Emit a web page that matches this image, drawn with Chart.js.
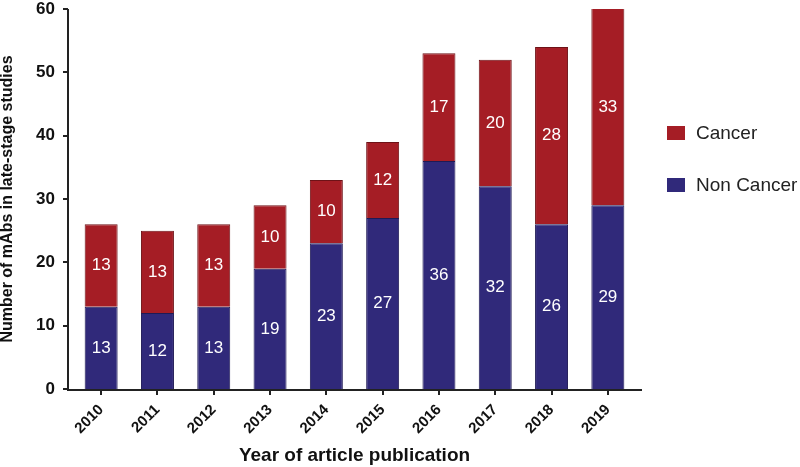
<!DOCTYPE html>
<html>
<head>
<meta charset="utf-8">
<script src="https://cdn.jsdelivr.net/npm/chart.js@4/dist/chart.umd.min.js"></script>
<style>
  body { margin: 0; background: #fff; }
  #wrap { position: relative; width: 800px; height: 467px; }
  .lg { position: absolute; left: 667px; font: 19px "Liberation Sans", Arial, sans-serif; color: #222; white-space: nowrap; }
  .lg span { display: inline-block; width: 18px; height: 14px; margin-right: 11px; vertical-align: -1px; }
</style>
</head>
<body>
<div id="wrap">
  <canvas id="myChart" width="800" height="467"></canvas>
  <div class="lg" style="top:122px"><span style="background:#a51d25"></span>Cancer</div>
  <div class="lg" style="top:174px"><span style="background:#30297a"></span>Non Cancer</div>
</div>
<script>
var years = ["2010", "2011", "2012", "2013", "2014", "2015", "2016", "2017", "2018", "2019"];
var nonCancer = [13, 12, 13, 19, 23, 27, 36, 32, 26, 29];
var cancer = [13, 13, 13, 10, 10, 12, 17, 20, 28, 33];
var yTicks = [0, 10, 20, 30, 40, 50, 60];

var font = "'Liberation Sans', Arial, sans-serif";

// values written inside each bar segment
var valueLabels = {
    id: "valueLabels",
    afterDatasetsDraw: function (chart) {
        var c = chart.ctx;
        var area = chart.chartArea;
        c.save();
        c.fillStyle = "#fff";
        c.font = "17px " + font;
        c.textAlign = "center";
        c.textBaseline = "middle";
        chart.data.datasets.forEach(function (ds, i) {
            chart.getDatasetMeta(i).data.forEach(function (bar, j) {
                var top = Math.max(bar.y, area.top);
                c.fillText(ds.data[j], bar.x, (top + bar.base) / 2);
            });
        });
        c.restore();
    }
};

// axis lines a bit past the plot area, like the original
var axisLines = {
    id: "axisLines",
    afterDraw: function (chart) {
        var c = chart.ctx;
        var a = chart.chartArea;
        var y = chart.scales.y;
        c.save();
        c.strokeStyle = "#222";
        c.lineWidth = 2;
        c.beginPath();
        c.moveTo(a.left - 5, a.top);
        c.lineTo(a.left - 5, a.bottom + 1);
        c.lineTo(a.right + 6, a.bottom + 1);
        yTicks.forEach(function (v) {
            var py = Math.round(y.getPixelForValue(v));
            c.moveTo(a.left - 10, py);
            c.lineTo(a.left - 5, py);
        });
        c.stroke();
        c.restore();
    }
};

var ctx = document.getElementById("myChart");
var myChart = new Chart(ctx, {
    type: "bar",
    data: {
        labels: years,
        datasets: [
            {
                label: "Non Cancer",
                data: nonCancer,
                backgroundColor: "#30297a",
                borderColor: "#1f1a55",
                borderWidth: 1
            },
            {
                label: "Cancer",
                data: cancer,
                backgroundColor: "#a51d25",
                borderColor: "#6e1217",
                borderWidth: 1
            }
        ]
    },
    options: {
        responsive: false,
        animation: false,
        layout: { padding: { top: 9, right: 164, left: 0, bottom: 0 } },
        plugins: {
            legend: { display: false },
            tooltip: { enabled: false }
        },
        datasets: {
            bar: { categoryPercentage: 1, barPercentage: 0.586 }
        },
        scales: {
            x: {
                stacked: true,
                border: { display: false },
                grid: {
                    display: true,
                    offset: false,
                    drawOnChartArea: false,
                    drawTicks: true,
                    tickLength: 6,
                    color: "#222",
                    lineWidth: 2
                },
                ticks: {
                    color: "#111",
                    font: { family: font, size: 15, weight: "bold" },
                    maxRotation: 45,
                    minRotation: 45,
                    padding: 6
                },
                title: {
                    display: true,
                    text: "Year of article publication",
                    color: "#111",
                    font: { family: font, size: 19, weight: "bold" },
                    padding: { top: 0, bottom: 0 }
                },
                afterFit: function (s) {
                    s.height = 78;
                    s.paddingLeft = 0;
                    s.paddingRight = 0;
                }
            },
            y: {
                stacked: true,
                min: 0,
                max: 60,
                border: { display: false },
                grid: { display: false },
                afterBuildTicks: function (s) {
                    s.ticks = yTicks.map(function (v) { return { value: v }; });
                },
                ticks: {
                    color: "#111",
                    font: { family: font, size: 17, weight: "bold" },
                    padding: 10
                },
                title: {
                    display: true,
                    text: "Number of mAbs in late-stage studies",
                    color: "#111",
                    font: { family: font, size: 16, weight: "bold", lineHeight: 1 },
                    padding: { top: 0, bottom: 0 }
                },
                afterFit: function (s) {
                    s.width = 73;
                    s.paddingTop = 0;
                    s.paddingBottom = 0;
                }
            }
        }
    },
    plugins: [valueLabels, axisLines]
});
</script>
</body>
</html>
